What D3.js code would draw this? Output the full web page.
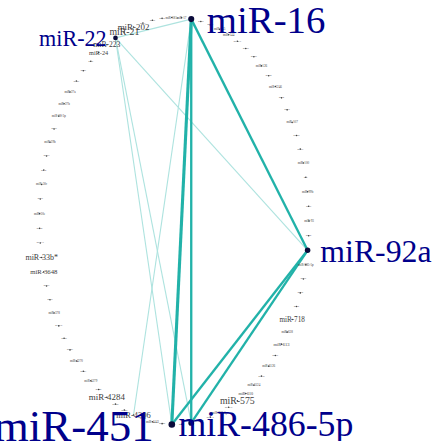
<!DOCTYPE html>
<html>
<head>
<meta charset="utf-8">
<script src="https://cdn.jsdelivr.net/npm/d3@7"></script>
<style>
  html, body { margin: 0; padding: 0; background: #fff; }
  svg { display: block; }
</style>
</head>
<body>
<div id="chart-container"></div>
<script>
// Nodes in circle order: index 0 sits at the right, then clockwise
const nodeNames = [
  "miR-93", "miR-92b", "miR-92a", "miR-885-5p", "miR-874", "miR-744", "miR-720", "miR-718", "miR-638", "miR-613",
  "miR-6127", "miR-6126", "miR-6125", "miR-6124", "miR-610", "miR-575", "miR-574-3p", "miR-532-5p", "miR-501-3p", "miR-494",
  "miR-486-5p", "miR-484", "miR-451", "miR-4448", "miR-4443", "miR-4324", "miR-4306", "miR-4298", "miR-4286", "miR-4284",
  "miR-4281", "miR-4279", "miR-4271", "miR-4270", "miR-4257", "miR-425", "miR-423-5p", "miR-378", "miR-375", "miR-3653",
  "miR-3648", "miR-33b*", "miR-331-3p", "miR-320a", "miR-30e", "miR-30d", "miR-30c", "miR-30b", "miR-301a", "miR-29b",
  "miR-29a", "miR-28-3p", "miR-27b", "miR-27a", "miR-26b", "miR-26a", "miR-25", "miR-24", "miR-223", "miR-22",
  "miR-21", "miR-202", "miR-191", "miR-185", "miR-182", "miR-181a", "miR-17", "miR-16", "miR-15b", "miR-146a",
  "miR-145", "miR-144", "miR-142-3p", "miR-130a", "miR-1260", "miR-126", "miR-125b", "miR-1246", "miR-122", "miR-10a",
  "miR-107", "miR-106b", "miR-103a", "miR-100", "miR-1", "miR-99b", "miR-99a"
];

// importance score per node (drives label size and hub dots)
const nodeScores = [
  5, 1, 70, 5, 1, 1, 1, 14, 5, 8,
  1, 5, 1, 5, 7, 20, 1, 5, 1, 1,
  79, 1, 100, 1, 5, 1, 17, 1, 1, 18,
  1, 5, 1, 5, 1, 1, 1, 5, 1, 1,
  13, 16, 1, 1, 5, 1, 5, 1, 1, 5,
  1, 5, 5, 5, 1, 1, 1, 12, 15, 48,
  20, 18, 1, 1, 1, 5, 5, 86, 1, 1,
  5, 5, 1, 1, 1, 5, 1, 5, 1, 1,
  5, 1, 1, 5, 1, 5, 1
];

// Edges
const edgeSources = ["miR-22", "miR-22", "miR-22", "miR-22", "miR-16", "miR-16", "miR-16", "miR-16", "miR-92a", "miR-92a"];
const edgeTargets = ["miR-16", "miR-451", "miR-486-5p", "miR-92a", "miR-4306", "miR-451", "miR-486-5p", "miR-92a", "miR-451", "miR-486-5p"];
const edgeWeights = [0.4, 0.4, 0.4, 0.4, 0.4, 3, 2, 2, 2, 2];

document.addEventListener("DOMContentLoaded", function () {
  var W = 432, H = 441;
  var N = nodeNames.length;

  var svg = d3.select("#chart-container").append("svg")
    .attr("width", W)
    .attr("height", H);

  // circle layout in [-1,1], stretched to the frame by scales
  var x = d3.scaleLinear().domain([-1, 1]).range([39.5, 309]);
  var y = d3.scaleLinear().domain([-1, 1]).range([17.5, 424.5]);

  var nodes = nodeNames.map(function (name, i) {
    var a = 2 * Math.PI * i / N;
    return { name: name, score: nodeScores[i], cx: Math.cos(a), cy: Math.sin(a) };
  });
  var byName = {};
  nodes.forEach(function (n) { byName[n.name] = n; });

  var edges = edgeSources.map(function (s, i) {
    return { source: byName[s], target: byName[edgeTargets[i]], weight: edgeWeights[i] };
  });

  var widthScale = d3.scaleLinear().domain([0, 3]).range([0.8, 3.1]);
  var edgeColor = d3.scaleThreshold().domain([1]).range(["#aee3df", "#22b2a9"]);
  var fontScale = d3.scaleLinear().domain([0, 100]).range([1, 45]);
  var hubRadius = d3.scaleLinear().domain([40, 100]).range([2.2, 3.3]);
  var isHub = function (d) { return d.score >= 40; };

  var g = svg.append("g");

  // light edges underneath
  edges.sort(function (a, b) { return a.weight - b.weight; });

  g.selectAll(".edge")
    .data(edges)
    .enter()
    .append("line")
    .attr("class", "edge")
    .attr("x1", function (d) { return x(d.source.cx); })
    .attr("y1", function (d) { return y(d.source.cy); })
    .attr("x2", function (d) { return x(d.target.cx); })
    .attr("y2", function (d) { return y(d.target.cy); })
    .attr("stroke", function (d) { return edgeColor(d.weight); })
    .attr("stroke-width", function (d) { return widthScale(d.weight); });

  g.selectAll(".node")
    .data(nodes)
    .enter()
    .append("circle")
    .attr("class", "node")
    .attr("cx", function (d) { return x(d.cx); })
    .attr("cy", function (d) { return y(d.cy); })
    .attr("r", function (d) { return isHub(d) ? hubRadius(d.score) : 0.8; })
    .attr("fill", function (d) { return isHub(d) ? "#0a0a3a" : "#444"; });

  // small labels sit centred on their node
  g.append("g")
    .attr("opacity", 0.95)
    .selectAll(".small-label")
    .data(nodes.filter(function (d) { return !isHub(d); }))
    .enter()
    .append("text")
    .attr("class", "small-label")
    .attr("x", function (d) { return x(d.cx); })
    .attr("y", function (d) { return y(d.cy); })
    .attr("dy", "0.32em")
    .attr("text-anchor", "middle")
    .style("font-family", "'Liberation Serif', 'DejaVu Serif', serif")
    .style("font-size", function (d) { return fontScale(d.score) + "px"; })
    .attr("fill", "#333")
    .text(function (d) { return d.name; });

  // hub labels go beside the node, outward
  var nudge = { "miR-486-5p": -27 };
  g.selectAll(".hub-label")
    .data(nodes.filter(isHub))
    .enter()
    .append("text")
    .attr("class", "hub-label")
    .attr("x", function (d) {
      var fs = fontScale(d.score);
      var side = d.cx >= 0 ? 1 : -1;
      return x(d.cx) + side * 0.4 * fs + (nudge[d.name] || 0);
    })
    .attr("y", function (d) { return y(d.cy); })
    .attr("dy", "0.36em")
    .attr("text-anchor", function (d) { return d.cx >= 0 ? "start" : "end"; })
    .style("font-family", "'Liberation Serif', 'DejaVu Serif', serif")
    .style("font-size", function (d) { return fontScale(d.score) + "px"; })
    .attr("fill", "#00008b")
    .text(function (d) { return d.name; });
});
</script>
</body>
</html>
